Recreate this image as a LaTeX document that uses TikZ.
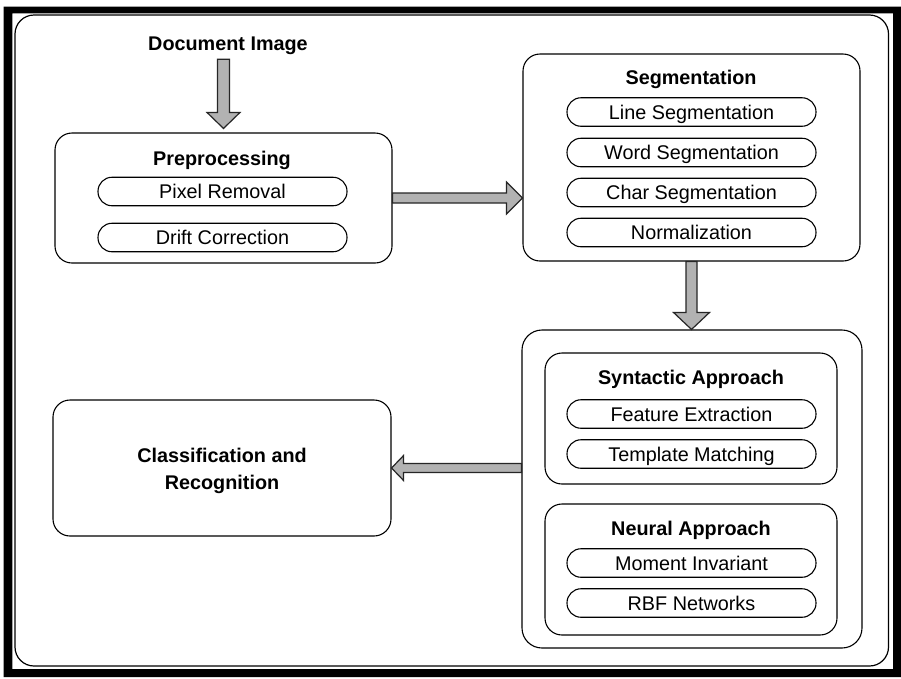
\documentclass[tikz,border=0pt]{standalone}
\usepackage{fontspec}
\setmainfont{Liberation Sans}
\usetikzlibrary{calc}

% label fonts
\newcommand\lblfont{\fontsize{19.8}{24}\selectfont}
\newcommand\ttlfont{\fontsize{19.8}{26.5}\selectfont\bfseries}

% block arrow, horizontal: #1 start, #2 tip, #3 shaft half width, #4 head half width, #5 signed head length
\newcommand\blockarrowh[5]{%
  \path[blockarrow] let \p1=(#1), \p2=(#2) in
    ({\x1},{\y1+#3}) -- ({\x2-(#5)},{\y1+#3}) -- ({\x2-(#5)},{\y1+#4}) -- ({\x2},{\y1})
    -- ({\x2-(#5)},{\y1-#4}) -- ({\x2-(#5)},{\y1-#3}) -- ({\x1},{\y1-#3}) -- cycle;}
% block arrow, pointing down: #1 start, #2 tip, #3 shaft half width, #4 head half width, #5 head length
\newcommand\blockarrowv[5]{%
  \path[blockarrow] let \p1=(#1), \p2=(#2) in
    ({\x1-#3},{\y1}) -- ({\x1-#3},{\y2+#5}) -- ({\x1-#4},{\y2+#5}) -- ({\x1},{\y2})
    -- ({\x1+#4},{\y2+#5}) -- ({\x1+#3},{\y2+#5}) -- ({\x1+#3},{\y1}) -- cycle;}

\tikzset{
  box/.style={draw, rounded corners=17pt, line width=1.1pt, inner sep=0pt},
  pill/.style={draw, rounded corners=14pt, line width=1.1pt, minimum width=249pt,
    minimum height=28.5pt, inner sep=0pt, text height=14pt, text depth=0pt, font=\lblfont},
  title/.style={inner sep=0pt, text height=14pt, text depth=0pt, font=\ttlfont},
  blockarrow/.style={draw=black!85, fill=black!30, line width=1.2pt, line join=miter}
}

\begin{document}
\begin{tikzpicture}[x=1pt, y=-1pt]
  \useasboundingbox (0,0) rectangle (901,678);
  \fill[white] (0,0) rectangle (901,678);

  % frame
  \fill[even odd rule] (3.5,6.5) rectangle (901,677) (12.3,13.3) rectangle (893,669);
  \draw[rounded corners=19pt, line width=1.2pt] (15,15) rectangle (888.5,666);

  % input
  \node[title] (docimg) at (228,43) {Document Image};

  % preprocessing
  \node[box, minimum width=337pt, minimum height=130pt] (prep) at (223.5,198) {};
  \node[title] (preptitle) at (222,158.7) {Preprocessing};
  \node[pill] (p1) at (222.5,191.5) {Pixel Removal};
  \node[pill] (p2) at (222.5,237.5) {Drift Correction};

  % segmentation
  \node[box, minimum width=337pt, minimum height=207pt] (seg) at (691.5,157.5) {};
  \node[title] (segtitle) at (691,77) {Segmentation};
  \node[pill] (l1) at (691.5,112) {Line Segmentation};
  \node[pill] (l2) at (691.5,152.5) {Word Segmentation};
  \node[pill] (l3) at (691.5,192.5) {Char Segmentation};
  \node[pill] (l4) at (691.5,232.5) {Normalization};

  % feature approaches
  \node[box, rounded corners=20pt, minimum width=340pt, minimum height=318pt] (big) at (692,489) {};
  \node[box, minimum width=292pt, minimum height=131pt] (syn) at (691,418.5) {};
  \node[title] (syntitle) at (691,377) {Syntactic Approach};
  \node[pill] (s1) at (691.5,414) {Feature Extraction};
  \node[pill] (s2) at (691.5,454) {Template Matching};
  \node[box, minimum width=292pt, minimum height=131pt] (neu) at (691,569.5) {};
  \node[title] (neutitle) at (691,528) {Neural Approach};
  \node[pill] (n1) at (691.5,563) {Moment Invariant};
  \node[pill] (n2) at (691.5,603) {RBF Networks};

  % classification
  \node[box, minimum width=338pt, minimum height=136pt] (class) at (222,468) {};
  \node[inner sep=0pt, font=\ttlfont, align=center] (classtxt) at (222,470.7)
    {Classification and\\Recognition};

  % flow arrows
  \blockarrowv{$(prep.north |- docimg.south)+(0,9)$}{$(prep.north)+(0,-4)$}{6pt}{16.5pt}{16pt}
  \blockarrowh{prep.east}{seg.west}{5pt}{16pt}{16pt}
  \blockarrowv{seg.south -| l1}{big.north -| l1}{5.5pt}{18pt}{17pt}
  \blockarrowh{big.west |- class.east}{class.east}{4.5pt}{12.5pt}{-12pt}
\end{tikzpicture}
\end{document}
